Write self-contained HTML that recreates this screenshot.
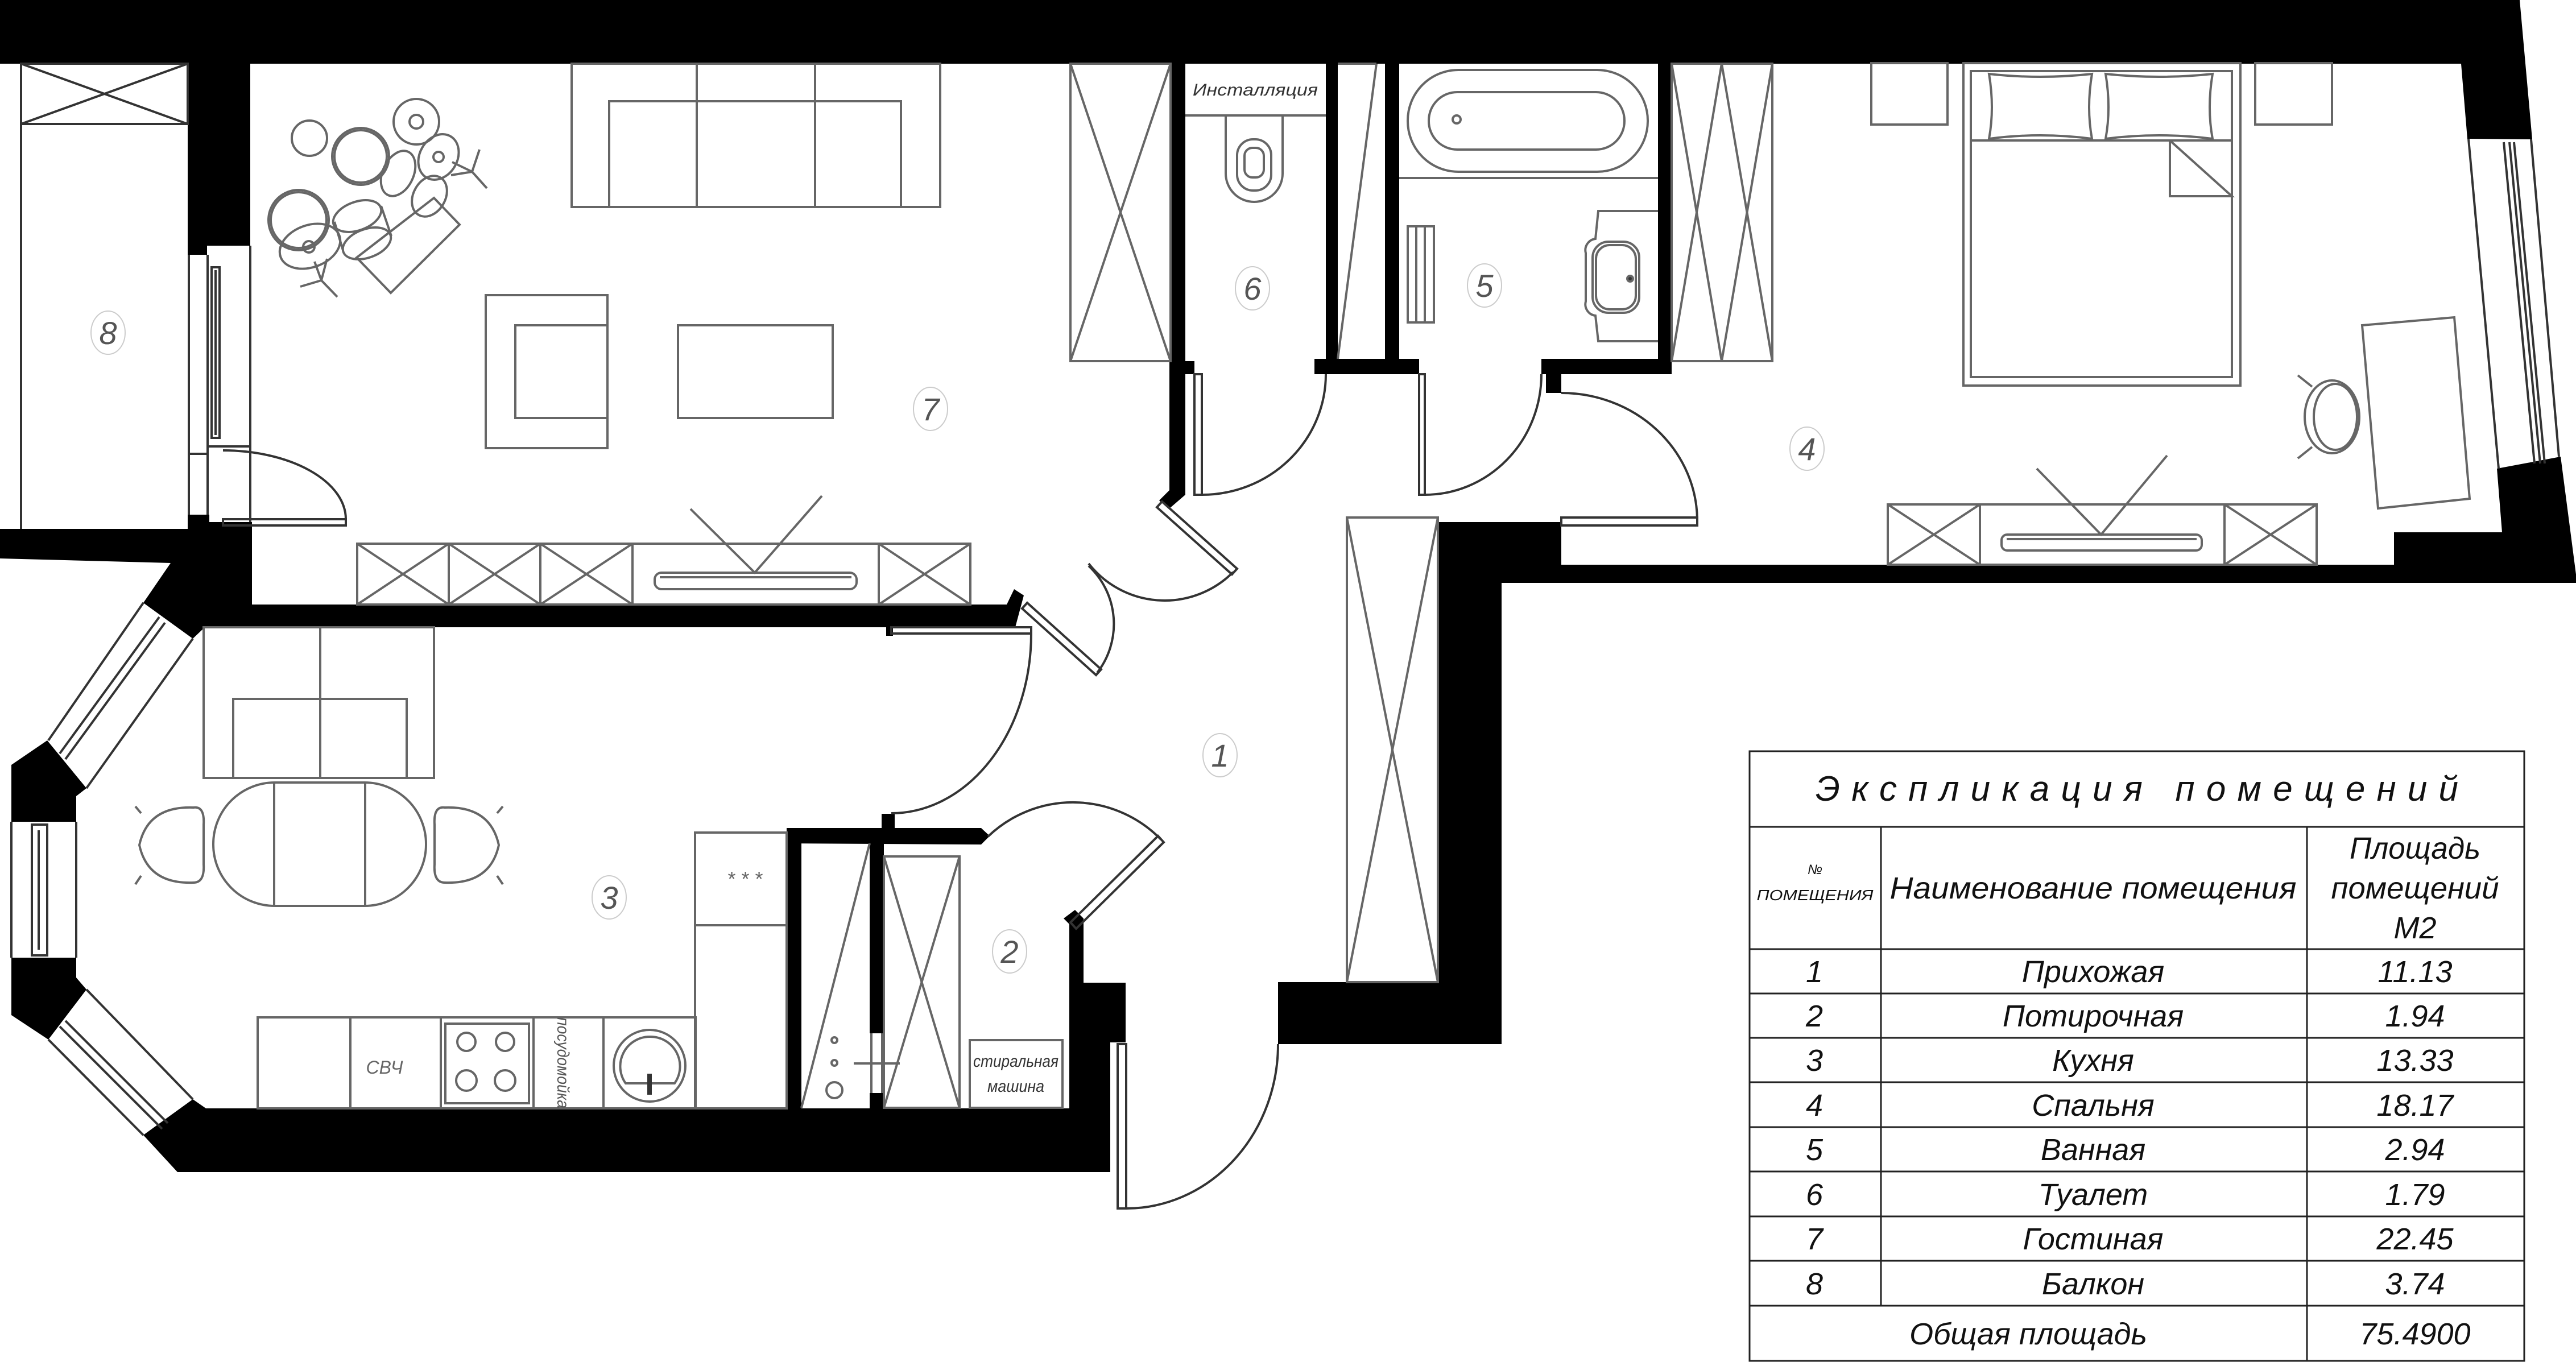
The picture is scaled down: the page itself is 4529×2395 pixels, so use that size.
<!DOCTYPE html>
<html><head><meta charset="utf-8"><style>
html,body{margin:0;padding:0;background:#fff;}
svg{display:block;}
text{font-family:"Liberation Sans","DejaVu Sans",sans-serif;font-style:italic;}
</style></head><body>
<svg xmlns="http://www.w3.org/2000/svg" width="4529" height="2395" viewBox="0 0 4529 2395">
<rect width="4529" height="2395" fill="#fff"/>

<g fill="#000">
<polygon points="0,0 4430,0 4452,245 4338,244 4327,112 0,112"/>
<polygon points="4390,824 4502,803 4529,1010 4529,1025 2640,1025 2640,1836 2247,1836 2247,1727 2528,1727 2528,918 2718,918 2718,993 4209,993 4209,936 4399,936"/>
<rect x="330" y="112" width="110" height="320"/>
<rect x="330" y="432" width="34" height="16"/>
<polygon points="0,930 330,930 330,905 368,905 368,918 443,918 443,1063 1770,1063 1783,1036 1800,1047 1785,1103 360,1103 339,1123 252,1060 300,990 0,982"/>
<rect x="1558" y="1103" width="12" height="15"/>
<polygon points="83,1302 152,1386 134,1400 134,1445 20,1445 20,1345"/>
<polygon points="20,1684 134,1684 134,1719 152,1740 85,1828 20,1785"/>
<polygon points="339,1933 362,1949 1952,1949 1952,2061 312,2061 252,1996"/>
<polygon points="1383,1456 1725,1456 1740,1470 1725,1485 1383,1483"/>
<rect x="1550" y="1431" width="23" height="26"/>
<rect x="1383" y="1456" width="26" height="493"/>
<rect x="1529" y="1483" width="25" height="334"/>
<rect x="1529" y="1922" width="25" height="27"/>
<polygon points="1880,1625 1870,1615 1890,1600 1905,1615 1905,1728 1979,1728 1979,1833 1952,1833 1952,1949 1880,1949"/>
<rect x="2056" y="112" width="28" height="523"/>
<rect x="2056" y="635" width="44" height="23"/>
<polygon points="2056,658 2084,658 2084,870 2055,895 2038,880 2056,862"/>
<rect x="2331" y="112" width="21" height="520"/>
<rect x="2435" y="112" width="25" height="520"/>
<rect x="2311" y="631" width="184" height="27"/>
<rect x="2915" y="112" width="24" height="520"/>
<rect x="2710" y="631" width="229" height="27"/>
<rect x="2718" y="658" width="27" height="33"/>
<rect x="2718" y="918" width="27" height="75"/>
</g>

<g fill="none" stroke="#333" stroke-width="4">
<line x1="37" y1="112" x2="37" y2="930"/>
<rect x="37" y="112" width="293" height="106"/>
<line x1="37" y1="112" x2="330" y2="218"/><line x1="330" y1="112" x2="37" y2="218"/>
<line x1="332" y1="448" x2="332" y2="905"/>
<line x1="365" y1="448" x2="365" y2="905"/>
<line x1="440" y1="432" x2="440" y2="918"/>
<line x1="332" y1="798" x2="365" y2="798"/>
<rect x="372" y="470" width="14" height="300"/>
<line x1="379" y1="475" x2="379" y2="765"/>
<line x1="365" y1="785" x2="440" y2="785"/>
<rect x="392" y="913" width="216" height="11"/>
<path d="M392,792 A216,121 0 0 1 608,913"/>
<line x1="4340" y1="244" x2="4393" y2="824"/>
<line x1="4450" y1="245" x2="4499" y2="803"/>
<line x1="4402" y1="250" x2="4456" y2="815"/>
<line x1="4412" y1="250" x2="4466" y2="815"/>
<line x1="4420" y1="250" x2="4474" y2="815"/>
<line x1="85" y1="1302" x2="252" y2="1060"/>
<line x1="152" y1="1386" x2="339" y2="1123"/>
<line x1="105" y1="1325" x2="280" y2="1085"/>
<line x1="115" y1="1335" x2="290" y2="1095"/>
<line x1="20" y1="1445" x2="20" y2="1684"/>
<line x1="134" y1="1445" x2="134" y2="1684"/>
<rect x="56" y="1450" width="27" height="230"/>
<line x1="68" y1="1460" x2="68" y2="1670"/>
<line x1="85" y1="1828" x2="252" y2="1996"/>
<line x1="152" y1="1740" x2="339" y2="1933"/>
<line x1="105" y1="1805" x2="285" y2="1985"/>
<line x1="115" y1="1795" x2="295" y2="1975"/>
</g>

<g fill="none" stroke="#333" stroke-width="4">
<rect x="2100" y="658" width="13" height="212"/>
<path d="M2113,870 A218,212 0 0 0 2331,658"/>
<rect x="2495" y="658" width="10" height="212"/>
<path d="M2505,870 A205,212 0 0 0 2710,658"/>
<rect x="2745" y="910" width="239" height="14"/>
<path d="M2745,691 A239,225 0 0 1 2984,914"/>
<polygon points="2043,882 2175,1000 2166,1010 2034,892"/>
<path d="M2168,1006 A170,170 0 0 1 1914,991"/>
<polygon points="1806,1060 1936,1177 1927,1187 1797,1070"/>
<path d="M1929,1183 A140,140 0 0 0 1914,995"/>
<rect x="1567" y="1103" width="246" height="11"/>
<path d="M1813,1114 A246,316 0 0 1 1567,1430"/>
<polygon points="1882,1622 2036,1470 2046,1481 1892,1633"/>
<path d="M2041,1476 A216,216 0 0 0 1737,1471"/>
<rect x="1965" y="1836" width="15" height="289"/>
<path d="M1980,2125 A267,289 0 0 0 2247,1836"/>
</g>

<g fill="none" stroke="#666" stroke-width="4">
<rect x="1005" y="112" width="648" height="252"/>
<rect x="1071" y="178" width="513" height="186"/>
<line x1="1225" y1="112" x2="1225" y2="364"/><line x1="1433" y1="112" x2="1433" y2="364"/>
<rect x="854" y="519" width="214" height="269"/>
<rect x="906" y="572" width="162" height="163"/>
<rect x="1192" y="572" width="272" height="163"/>
<rect x="1882" y="112" width="176" height="523"/>
<line x1="1882" y1="112" x2="2058" y2="635"/><line x1="2058" y1="112" x2="1882" y2="635"/>
<rect x="628" y="956" width="1078" height="107"/>
<line x1="789" y1="956" x2="789" y2="1063"/><line x1="950" y1="956" x2="950" y2="1063"/>
<line x1="1112" y1="956" x2="1112" y2="1063"/><line x1="1545" y1="956" x2="1545" y2="1063"/>
<path d="M628,956 L789,1063 M789,956 L628,1063 M789,956 L950,1063 M950,956 L789,1063 M950,956 L1112,1063 M1112,956 L950,1063 M1545,956 L1706,1063 M1706,956 L1545,1063"/>
<rect x="1151" y="1007" width="355" height="29" rx="12"/>
<line x1="1160" y1="1015" x2="1497" y2="1015"/>
<polyline points="1214,895 1327,1007 1445,872"/>
<circle cx="544" cy="243" r="31"/>
<circle cx="634" cy="275" r="50"/><circle cx="634" cy="275" r="46"/>
<circle cx="732" cy="214" r="40"/><circle cx="732" cy="214" r="12"/>
<ellipse cx="700" cy="305" rx="27" ry="42" transform="rotate(25 700 305)"/>
<ellipse cx="771" cy="276" rx="33" ry="42" transform="rotate(30 771 276)"/>
<circle cx="771" cy="276" r="9"/>
<ellipse cx="755" cy="345" rx="28" ry="38" transform="rotate(30 755 345)"/>
<polygon points="627,453 763,348 808,395 687,515"/>
<circle cx="525" cy="387" r="53"/><circle cx="525" cy="387" r="49"/>
<ellipse cx="628" cy="380" rx="44" ry="25" transform="rotate(-20 628 380)"/>
<ellipse cx="645" cy="428" rx="44" ry="25" transform="rotate(-20 645 428)"/>
<line x1="588" y1="390" x2="603" y2="440"/><line x1="670" y1="362" x2="688" y2="415"/>
<ellipse cx="545" cy="433" rx="55" ry="37" transform="rotate(-20 545 433)"/>
<circle cx="543" cy="434" r="10"/>
<path d="M565,493 L528,504 M565,493 L593,522 M565,493 L575,455 M565,493 L553,460"/>
<path d="M830,302 L843,263 M830,302 L856,331 M830,302 L793,308 M830,302 L795,285"/>
<rect x="3290" y="111" width="134" height="108"/>
<rect x="3965" y="111" width="135" height="108"/>
<rect x="3452" y="111" width="487" height="567"/>
<rect x="3465" y="125" width="459" height="538"/>
<line x1="3465" y1="247" x2="3924" y2="247"/>
<path d="M3497,130 Q3587,140 3678,130 Q3668,190 3678,244 Q3587,232 3497,244 Q3507,190 3497,130 Z"/>
<path d="M3702,130 Q3796,140 3890,130 Q3880,190 3890,244 Q3796,232 3702,244 Q3712,190 3702,130 Z"/>
<polyline points="3815,247 3815,345 3924,345 3815,247"/>
<polygon points="4153,572 4315,558 4342,877 4181,894"/>
<ellipse cx="4100" cy="733" rx="48" ry="64"/>
<ellipse cx="4106" cy="733" rx="38" ry="58"/>
<path d="M4065,680 L4040,660 M4065,786 L4040,806"/>
<rect x="3319" y="887" width="754" height="106"/>
<line x1="3481" y1="887" x2="3481" y2="993"/><line x1="3911" y1="887" x2="3911" y2="993"/>
<path d="M3319,887 L3481,993 M3481,887 L3319,993 M3911,887 L4073,993 M4073,887 L3911,993"/>
<rect x="3519" y="940" width="352" height="28" rx="10"/>
<line x1="3528" y1="948" x2="3862" y2="948"/>
<polyline points="3581,824 3694,940 3810,801"/>
<rect x="2939" y="112" width="177" height="523"/>
<line x1="2939" y1="112" x2="3027" y2="635"/><line x1="3116" y1="112" x2="3027" y2="635"/>
<line x1="3027" y1="112" x2="2939" y2="635"/><line x1="3027" y1="112" x2="3116" y2="635"/>
<line x1="2084" y1="203" x2="2331" y2="203"/>
<path d="M2155,203 L2155,305 A50,50 0 0 0 2255,305 L2255,203"/>
<rect x="2175" y="245" width="60" height="90" rx="28"/>
<rect x="2188" y="260" width="34" height="52" rx="14"/>
<line x1="2352" y1="112" x2="2420" y2="112"/>
<line x1="2420" y1="112" x2="2352" y2="631"/>
<rect x="2475" y="123" width="422" height="179" rx="89"/>
<rect x="2512" y="162" width="344" height="101" rx="50"/>
<circle cx="2561" cy="210" r="7"/>
<line x1="2460" y1="313" x2="2915" y2="313"/>
<path d="M2915,371 L2810,371 L2805,420 A20,20 0 0 0 2788,445 L2788,530 A20,20 0 0 0 2805,555 L2810,600 L2915,600"/>
<rect x="2800" y="425" width="82" height="125" rx="28"/>
<rect x="2806" y="431" width="70" height="113" rx="24"/>
<circle cx="2866" cy="490" r="5" fill="#333"/>
<rect x="2475" y="398" width="46" height="169"/>
<line x1="2490" y1="398" x2="2490" y2="567"/><line x1="2505" y1="398" x2="2505" y2="567"/>
<rect x="2368" y="910" width="160" height="817"/>
<line x1="2368" y1="910" x2="2528" y2="1727"/><line x1="2528" y1="910" x2="2368" y2="1727"/>
<rect x="358" y="1103" width="405" height="265"/>
<rect x="410" y="1229" width="305" height="139"/>
<line x1="563" y1="1103" x2="563" y2="1368"/>
<rect x="375" y="1376" width="374" height="217" rx="108"/>
<line x1="482" y1="1376" x2="482" y2="1593"/><line x1="642" y1="1376" x2="642" y2="1593"/>
<path d="M340,1420 Q360,1417 358,1450 L358,1520 Q360,1552 340,1552 Q260,1555 245,1486 Q260,1417 340,1420 Z"/>
<path d="M238,1418 L248,1430 M238,1555 L248,1540"/>
<path d="M782,1420 Q762,1417 764,1450 L764,1520 Q762,1552 782,1552 Q862,1555 877,1486 Q862,1417 782,1420 Z"/>
<path d="M884,1418 L874,1430 M884,1555 L874,1540"/>
<rect x="453" y="1789" width="770" height="160"/>
<line x1="616" y1="1789" x2="616" y2="1949"/><line x1="775" y1="1789" x2="775" y2="1949"/>
<line x1="938" y1="1789" x2="938" y2="1949"/><line x1="1061" y1="1789" x2="1061" y2="1949"/>
<rect x="1222" y="1464" width="161" height="485"/>
<line x1="1222" y1="1627" x2="1383" y2="1627"/>
<rect x="783" y="1800" width="147" height="140"/>
<circle cx="820" cy="1832" r="16"/><circle cx="888" cy="1832" r="16"/>
<circle cx="820" cy="1900" r="18"/><circle cx="888" cy="1900" r="18"/>
<circle cx="1142" cy="1874" r="63"/>
<path d="M1100,1905 L1186,1905 A52,52 0 0 0 1142,1823 A52,52 0 0 0 1100,1905 Z"/>
<line x1="1142" y1="1888" x2="1142" y2="1925" stroke="#333" stroke-width="8"/>
<line x1="1409" y1="1948" x2="1529" y2="1483"/>
<rect x="1554" y="1506" width="133" height="442"/>
<line x1="1554" y1="1506" x2="1687" y2="1948"/><line x1="1687" y1="1506" x2="1554" y2="1948"/>
<line x1="1532" y1="1817" x2="1532" y2="1922"/><line x1="1551" y1="1817" x2="1551" y2="1922"/>
<circle cx="1467" cy="1829" r="5"/><circle cx="1467" cy="1869" r="5"/><circle cx="1467" cy="1917" r="14"/>
<line x1="1501" y1="1870" x2="1582" y2="1870"/>
<rect x="1705" y="1829" width="163" height="119"/>
</g>

<g fill="none" stroke="#ccc" stroke-width="2">
<ellipse cx="190" cy="585" rx="30" ry="38"/>
<ellipse cx="1636" cy="719" rx="30" ry="38"/>
<ellipse cx="2202" cy="507" rx="30" ry="38"/>
<ellipse cx="2610" cy="502" rx="30" ry="38"/>
<ellipse cx="3177" cy="789" rx="30" ry="38"/>
<ellipse cx="2145" cy="1328" rx="30" ry="38"/>
<ellipse cx="1071" cy="1578" rx="30" ry="38"/>
<ellipse cx="1775" cy="1673" rx="30" ry="38"/>
</g>
<g fill="#555" font-size="56" text-anchor="middle">
<text x="190" y="605">8</text>
<text x="1636" y="739">7</text>
<text x="2202" y="527">6</text>
<text x="2610" y="522">5</text>
<text x="3177" y="809">4</text>
<text x="2145" y="1348">1</text>
<text x="1071" y="1598">3</text>
<text x="1775" y="1693">2</text>
</g>
<g fill="#333" font-size="30" text-anchor="middle">
<text x="2207" y="168" textLength="220" lengthAdjust="spacingAndGlyphs">Инсталляция</text>
<text x="1786" y="1876" textLength="150" lengthAdjust="spacingAndGlyphs" font-style="normal">стиральная</text>
<text x="1786" y="1920" textLength="100" lengthAdjust="spacingAndGlyphs" font-style="normal">машина</text>
</g>
<text x="676" y="1888" fill="#666" font-size="32" font-style="normal" text-anchor="middle">СВЧ</text>
<text x="1309" y="1558" fill="#666" font-size="36" font-style="normal" text-anchor="middle">* * *</text>
<text transform="translate(980,1869) rotate(90)" fill="#555" font-size="30" font-style="normal" text-anchor="middle" textLength="160" lengthAdjust="spacingAndGlyphs">посудомойка</text>

<g fill="none" stroke="#222" stroke-width="3">
<rect x="3076" y="1321" width="1362" height="1072"/>
<line x1="3076" y1="1454" x2="4438" y2="1454"/>
<line x1="3076" y1="1669" x2="4438" y2="1669"/>
<line x1="3076" y1="1747" x2="4438" y2="1747"/>
<line x1="3076" y1="1825" x2="4438" y2="1825"/>
<line x1="3076" y1="1903" x2="4438" y2="1903"/>
<line x1="3076" y1="1982" x2="4438" y2="1982"/>
<line x1="3076" y1="2060" x2="4438" y2="2060"/>
<line x1="3076" y1="2139" x2="4438" y2="2139"/>
<line x1="3076" y1="2217" x2="4438" y2="2217"/>
<line x1="3076" y1="2296" x2="4438" y2="2296"/>
<line x1="3307" y1="1454" x2="3307" y2="2296"/>
<line x1="4056" y1="1454" x2="4056" y2="2393"/>
</g>
<g fill="#111" text-anchor="middle">
<text x="3757" y="1408" font-size="62" textLength="1130" lengthAdjust="spacing">Экспликация  помещений</text>
<text x="3191" y="1537" font-size="24">№</text>
<text x="3191" y="1583" font-size="26" textLength="205" lengthAdjust="spacingAndGlyphs">ПОМЕЩЕНИЯ</text>
<text x="3680" y="1580" font-size="54" textLength="715" lengthAdjust="spacingAndGlyphs">Наименование помещения</text>
<text x="4246" y="1510" font-size="54" textLength="230" lengthAdjust="spacingAndGlyphs">Площадь</text>
<text x="4246" y="1580" font-size="54" textLength="295" lengthAdjust="spacingAndGlyphs">помещений</text>
<text x="4246" y="1650" font-size="54">М2</text>
<g font-size="54">
<text x="3190" y="1727">1</text><text x="3680" y="1727">Прихожая</text><text x="4246" y="1727">11.13</text>
<text x="3190" y="1805">2</text><text x="3680" y="1805">Потирочная</text><text x="4246" y="1805">1.94</text>
<text x="3190" y="1883">3</text><text x="3680" y="1883">Кухня</text><text x="4246" y="1883">13.33</text>
<text x="3190" y="1962">4</text><text x="3680" y="1962">Спальня</text><text x="4246" y="1962">18.17</text>
<text x="3190" y="2040">5</text><text x="3680" y="2040">Ванная</text><text x="4246" y="2040">2.94</text>
<text x="3190" y="2119">6</text><text x="3680" y="2119">Туалет</text><text x="4246" y="2119">1.79</text>
<text x="3190" y="2197">7</text><text x="3680" y="2197">Гостиная</text><text x="4246" y="2197">22.45</text>
<text x="3190" y="2276">8</text><text x="3680" y="2276">Балкон</text><text x="4246" y="2276">3.74</text>
<text x="3566" y="2364">Общая площадь</text><text x="4246" y="2364">75.4900</text>
</g>
</g>
</svg>
</body></html>
